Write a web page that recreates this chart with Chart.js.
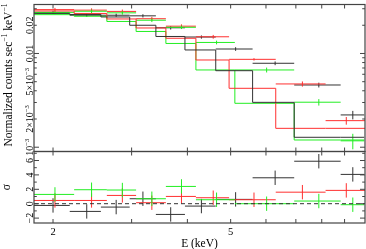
<!DOCTYPE html>
<html>
<head>
<meta charset="utf-8">
<script src="https://cdn.jsdelivr.net/npm/chart.js@4.4.1/dist/chart.umd.min.js"></script>
<style>
  html, body { margin: 0; padding: 0; background: #fff; }
  #wrap { position: relative; width: 366px; height: 249px; }
  #wrap canvas { position: absolute; left: 0; top: 0; }
</style>
</head>
<body>
<div id="wrap">
  <canvas id="spec" width="366" height="249"></canvas>
  <canvas id="resid" width="366" height="249"></canvas>
</div>
<script>
// --- data group 1 (black) : bin edges, centres (keV), counts/s/keV, model, residuals
const blackLo    = [1.81, 2.18, 2.56, 2.97, 3.40, 3.95, 4.63, 5.60, 6.94, 8.82];
const blackHi    = [2.18, 2.56, 2.97, 3.40, 3.95, 4.63, 5.60, 6.94, 8.82, 9.96];
const blackE     = [2.00, 2.38, 2.77, 3.18, 3.67, 4.30, 5.13, 6.29, 7.88, 9.39];
const blackRate  = [0.02745, 0.02558, 0.02558, 0.02521, 0.0188, 0.01498, 0.01116, 0.00786, 0.00461, 0.00221];
const blackErr   = [0.0011, 0.0010, 0.0010, 0.0010, 0.0008, 0.0006, 0.0005, 0.00036, 0.00027, 0.00023];
const blackModel = [0.02772, 0.02673, 0.02608, 0.02452, 0.0200, 0.01518, 0.0109, 0.00655, 0.00301, 0.001276];
const blackResid = [-0.24, -1.07, -0.47, 0.69, -1.49, -0.33, 0.6, 3.6, 5.9, 4.07];

// --- data group 2 (red)
const redLo    = [1.81, 2.23, 2.64, 3.07, 3.58, 4.18, 4.96, 6.31, 8.16];
const redHi    = [2.23, 2.64, 3.07, 3.58, 4.18, 4.96, 6.31, 8.16, 10.0];
const redE     = [2.02, 2.44, 2.86, 3.33, 3.88, 4.57, 5.64, 7.24, 9.08];
const redRate  = [0.02935, 0.0290, 0.0281, 0.02348, 0.01955, 0.01507, 0.00866, 0.00473, 0.00192];
const redErr   = [0.0013, 0.0013, 0.0013, 0.0011, 0.0009, 0.0007, 0.00026, 0.0003, 0.00018];
const redModel = [0.02877, 0.02842, 0.02673, 0.02334, 0.01871, 0.01453, 0.00852, 0.00425, 0.00159];
const redResid = [0.45, 0.45, 1.15, 0.14, 1.01, 0.83, 0.55, 1.6, 1.85];

// --- data group 3 (green)
const greenLo    = [1.81, 2.23, 2.64, 3.07, 3.58, 4.18, 5.11, 6.94, 8.82];
const greenHi    = [2.23, 2.64, 3.07, 3.58, 4.18, 5.11, 6.94, 8.82, 9.96];
const greenE     = [2.02, 2.44, 2.86, 3.33, 3.88, 4.65, 6.02, 7.88, 9.39];
const greenRate  = [0.02746, 0.02821, 0.02713, 0.02263, 0.01902, 0.01311, 0.00667, 0.00302, 0.00117];
const greenErr   = [0.0012, 0.0012, 0.0012, 0.0010, 0.0008, 0.0006, 0.0004, 0.00024, 0.00022];
const greenModel = [0.02595, 0.02595, 0.02495, 0.02195, 0.01717, 0.01279, 0.00667, 0.00294, 0.001194];
const greenResid = [1.29, 1.94, 1.9, 0.69, 2.4, 0.55, 0.0, 0.37, -0.14];

// axis ticks / labels
const energyTicks  = [2, 3, 4, 5, 6, 7, 8, 9];
const energyLabels = [2, 5];
const specMajor    = [0.001, 0.01];
const specMinor    = [0.002, 0.003, 0.004, 0.005, 0.006, 0.007, 0.008, 0.009, 0.02, 0.03];
const specLabelVals = [0.001, 0.002, 0.005, 0.01, 0.02];
const specLabels    = ['10{\u22123}', '2\u00d710{\u22123}', '5\u00d710{\u22123}', '0.01', '0.02'];
const residMajor   = [-2, 0, 2, 4, 6];
const residMinor   = [-1, 1, 3, 5, 7];
const residLabels  = ['\u22122', '0', '2', '4', '6'];

const C_BLACK = '#333333', C_RED = '#ff3030', C_GREEN = '#22ee22';
const SERIF = '"Liberation Serif", "DejaVu Serif", serif';

// text with {...} parts raised as superscripts
function drawRich(ctx, text, x, y, size, align) {
  const parts = text.split(/(\{[^}]*\})/).filter(s => s.length);
  let total = 0;
  const segs = parts.map(p => {
    const sup = p[0] === '{';
    const t = sup ? p.slice(1, -1) : p;
    const fs = sup ? size * 0.66 : size;
    ctx.font = fs + 'px ' + SERIF;
    const w = ctx.measureText(t).width;
    total += w;
    return { t, sup, fs, w };
  });
  let cx = align === 'center' ? x - total / 2 : x;
  ctx.textAlign = 'left';
  ctx.textBaseline = 'alphabetic';
  segs.forEach(s => {
    ctx.font = s.fs + 'px ' + SERIF;
    ctx.fillText(s.t, cx, s.sup ? y - size * 0.4 : y);
    cx += s.w;
  });
}

function drawUp(ctx, text, x, y, size) {
  ctx.save();
  ctx.translate(x, y);
  ctx.rotate(-Math.PI / 2);
  drawRich(ctx, text, 0, 0, size, 'center');
  ctx.restore();
}

function seg(ctx, x1, y1, x2, y2) {
  ctx.beginPath();
  ctx.moveTo(x1, y1);
  ctx.lineTo(x2, y2);
  ctx.stroke();
}

// horizontal bin bars + vertical error bars, drawn below the model lines
const errorBarPlugin = {
  id: 'errorBars',
  beforeDatasetsDraw(chart) {
    const { ctx, chartArea: a, scales: { x, y } } = chart;
    ctx.save();
    ctx.beginPath();
    ctx.rect(a.left, a.top, a.right - a.left, a.bottom - a.top);
    ctx.clip();
    ctx.lineWidth = 1;
    chart.data.datasets.forEach(ds => {
      const b = ds.errorBars;
      if (!b) return;
      ctx.strokeStyle = b.color;
      ds.data.forEach((p, i) => {
        const err = Array.isArray(b.err) ? b.err[i] : b.err;
        const yp = y.getPixelForValue(p.y);
        const xp = x.getPixelForValue(p.x);
        seg(ctx, x.getPixelForValue(b.lo[i]), yp, x.getPixelForValue(b.hi[i]), yp);
        seg(ctx, xp, y.getPixelForValue(p.y - err), xp, y.getPixelForValue(p.y + err));
      });
    });
    ctx.restore();
  }
};

// frame, inward ticks and labels
function framePlugin(cfg) {
  return {
    id: 'frame',
    afterDraw(chart) {
      const { ctx, chartArea: a, scales: { x, y } } = chart;
      ctx.save();
      ctx.strokeStyle = '#444';
      ctx.lineWidth = 1.2;
      ctx.strokeRect(a.left, a.top, a.right - a.left, a.bottom - a.top);
      ctx.lineWidth = 1;
      energyTicks.forEach(v => {
        const px = x.getPixelForValue(v);
        seg(ctx, px, a.top, px, a.top + 4);
        seg(ctx, px, a.bottom, px, a.bottom - 4);
      });
      const yt = (vals, len) => vals.forEach(v => {
        const py = y.getPixelForValue(v);
        if (py < a.top - 0.5 || py > a.bottom + 0.5) return;
        seg(ctx, a.left, py, a.left + len, py);
        seg(ctx, a.right, py, a.right - len, py);
      });
      yt(cfg.major, 5);
      yt(cfg.minor, 2.8);

      ctx.fillStyle = '#000';
      cfg.labelVals.forEach((v, i) => {
        drawUp(ctx, cfg.labels[i], a.left - 1.5, y.getPixelForValue(v), 10);
      });
      drawUp(ctx, cfg.title, cfg.titleX, (a.top + a.bottom) / 2 + cfg.titleShift, 11.5);
      if (cfg.xAxis) {
        energyLabels.forEach(v => {
          drawRich(ctx, String(v), x.getPixelForValue(v), a.bottom + 11.5, 10.5, 'center');
        });
        drawRich(ctx, 'E (keV)', (a.left + a.right) / 2, a.bottom + 23.5, 11.5, 'center');
      }
      ctx.restore();
    }
  };
}

function stepPoints(lo, hi, vals) {
  const pts = lo.map((e, i) => ({ x: e, y: vals[i] }));
  pts.push({ x: hi[hi.length - 1], y: vals[vals.length - 1] });
  return pts;
}

function points(e, vals) {
  return e.map((v, i) => ({ x: v, y: vals[i] }));
}

function dataSet(e, vals, lo, hi, err, color) {
  return {
    type: 'scatter',
    data: points(e, vals),
    pointRadius: 0,
    pointHoverRadius: 0,
    errorBars: { lo: lo, hi: hi, err: err, color: color }
  };
}

function modelSet(lo, hi, vals, color) {
  return {
    type: 'line',
    data: stepPoints(lo, hi, vals),
    stepped: 'after',
    borderColor: color,
    borderWidth: 1,
    pointRadius: 0,
    fill: false
  };
}

const xScale = { type: 'logarithmic', min: 1.813, max: 10, bounds: 'data', display: false };

const common = {
  responsive: false,
  animation: false,
  devicePixelRatio: 1,
  events: [],
  plugins: { legend: { display: false }, tooltip: { enabled: false } }
};

new Chart(document.getElementById('spec'), {
  type: 'scatter',
  data: {
    datasets: [
      dataSet(blackE, blackRate, blackLo, blackHi, blackErr, C_BLACK),
      dataSet(redE, redRate, redLo, redHi, redErr, C_RED),
      dataSet(greenE, greenRate, greenLo, greenHi, greenErr, C_GREEN),
      modelSet(blackLo, blackHi, blackModel, C_BLACK),
      modelSet(redLo, redHi, redModel, C_RED),
      modelSet(greenLo, greenHi, greenModel, C_GREEN)
    ]
  },
  options: Object.assign({}, common, {
    layout: { padding: { left: 34, right: 1, top: 4.5, bottom: 97.5 } },
    scales: {
      x: xScale,
      y: { type: 'logarithmic', min: 9.0e-4, max: 0.0333, bounds: 'data', display: false }
    }
  }),
  plugins: [errorBarPlugin, framePlugin({
    major: specMajor, minor: specMinor,
    labelVals: specLabelVals, labels: specLabels,
    title: 'Normalized counts sec{\u22121} keV{\u22121}', titleX: 11.5, titleShift: -3,
    xAxis: false
  })]
});

new Chart(document.getElementById('resid'), {
  type: 'scatter',
  data: {
    datasets: [
      dataSet(blackE, blackResid, blackLo, blackHi, 1, C_BLACK),
      dataSet(redE, redResid, redLo, redHi, 1, C_RED),
      dataSet(greenE, greenResid, greenLo, greenHi, 1, C_GREEN),
      {
        type: 'line',
        data: [{ x: 1.813, y: 0 }, { x: 10, y: 0 }],
        borderColor: '#333',
        borderWidth: 1,
        borderDash: [4, 3],
        pointRadius: 0
      }
    ]
  },
  options: Object.assign({}, common, {
    layout: { padding: { left: 34, right: 1, top: 151.5, bottom: 26 } },
    scales: {
      x: xScale,
      y: { type: 'linear', min: -2.68, max: 7.25, bounds: 'data', display: false }
    }
  }),
  plugins: [errorBarPlugin, framePlugin({
    major: residMajor, minor: residMinor,
    labelVals: residMajor, labels: residLabels,
    title: '\u03c3', titleX: 10, titleShift: 0,
    xAxis: true
  })]
});
</script>
</body>
</html>
